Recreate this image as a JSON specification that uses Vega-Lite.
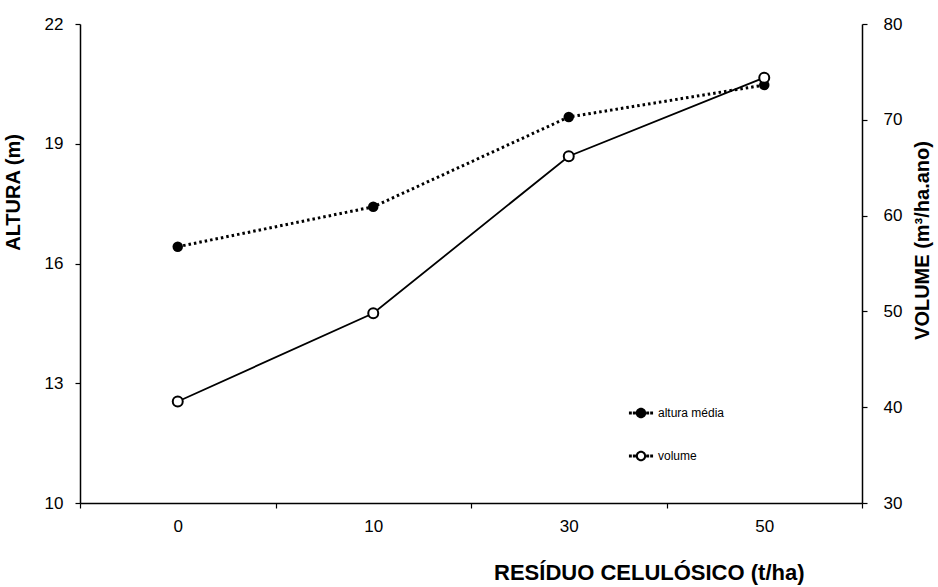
{
  "$schema": "https://vega.github.io/schema/vega-lite/v6.json",
  "width": 782,
  "height": 479,
  "autosize": {"type": "none"},
  "padding": {"left": 80, "top": 24, "right": 76, "bottom": 84},
  "background": "white",
  "config": {
    "view": {"stroke": null},
    "font": "Liberation Sans",
    "axis": {
      "grid": false,
      "domainColor": "black",
      "domainWidth": 1.5,
      "tickColor": "black",
      "tickWidth": 1.2,
      "tickSize": 5,
      "labelColor": "black",
      "labelFont": "Liberation Sans",
      "labelFontSize": 17,
      "titleColor": "black",
      "titleFont": "Liberation Sans",
      "titleFontSize": 20,
      "titleFontWeight": "bold"
    },
    "legend": {
      "orient": "none",
      "legendX": 555,
      "legendY": 383,
      "title": null,
      "symbolFillColor": "black",
      "symbolStrokeColor": "black",
      "symbolStrokeWidth": 0,
      "symbolSize": 110,
      "symbolOpacity": 1,
      "labelFont": "Liberation Sans",
      "labelFontSize": 12,
      "labelColor": "black",
      "labelOffset": 11,
      "rowPadding": 31
    }
  },
  "data": {
    "values": [
      {"residuo": "0", "altura": 16.42, "volume": 40.6},
      {"residuo": "10", "altura": 17.42, "volume": 49.8},
      {"residuo": "30", "altura": 19.67, "volume": 66.2},
      {"residuo": "50", "altura": 20.47, "volume": 74.4}
    ]
  },
  "encoding": {
    "x": {
      "field": "residuo",
      "type": "nominal",
      "sort": null,
      "bandPosition": 0.5,
      "scale": {"type": "band", "paddingInner": 0, "paddingOuter": 0},
      "axis": {
        "title": "RESÍDUO CELULÓSICO (t/ha)",
        "titleFontSize": 22,
        "labelAngle": 0,
        "tickBand": "extent",
        "labelPadding": 10,
        "titleX": 724,
        "titleY": 76,
        "titleAlign": "right",
        "titleAnchor": null,
        "titleBaseline": "alphabetic"
      }
    }
  },
  "layer": [
    {
      "encoding": {
        "y": {
          "field": "altura",
          "type": "quantitative",
          "scale": {"domain": [10, 22], "nice": false, "zero": false},
          "axis": {
            "title": "ALTURA (m)",
            "values": [10, 13, 16, 19, 22],
            "labelPadding": 12,
            "titleAngle": 270,
            "titleX": -61,
            "titleY": 168,
            "titleAlign": "center",
            "titleAnchor": null,
            "titleBaseline": "alphabetic"
          }
        }
      },
      "layer": [
        {
          "mark": {"type": "line", "color": "black", "strokeWidth": 3, "strokeDash": [2.5, 3]}
        },
        {
          "mark": {"type": "point", "filled": true, "color": "black", "size": 110, "opacity": 1}
        },
        {
          "mark": {"type": "point", "filled": true, "color": "black", "opacity": 0},
          "encoding": {
            "shape": {
              "datum": "altura média",
              "scale": {
                "domain": ["altura média", "volume"],
                "range": [
                  "M1,0A1,1,0,1,1,-1,0A1,1,0,1,1,1,0Z M-2.3,-0.28h0.55v0.56h-0.55Z M-1.55,-0.28h0.55v0.56h-0.55Z M1.0,-0.28h0.55v0.56h-0.55Z M1.75,-0.28h0.55v0.56h-0.55Z",
                  "M1,0A1,1,0,1,1,-1,0A1,1,0,1,1,1,0Z M0.6,0A0.6,0.6,0,1,0,-0.6,0A0.6,0.6,0,1,0,0.6,0Z M-2.3,-0.28h0.55v0.56h-0.55Z M-1.55,-0.28h0.55v0.56h-0.55Z M1.0,-0.28h0.55v0.56h-0.55Z M1.75,-0.28h0.55v0.56h-0.55Z"
                ]
              }
            }
          }
        },
        {
          "mark": {"type": "point", "filled": true, "color": "black", "opacity": 0},
          "encoding": {"shape": {"datum": "volume"}}
        }
      ]
    },
    {
      "encoding": {
        "y": {
          "field": "volume",
          "type": "quantitative",
          "scale": {"domain": [30, 80], "nice": false, "zero": false},
          "axis": {
            "orient": "right",
            "title": "VOLUME (m³/ha.ano)",
            "values": [30, 40, 50, 60, 70, 80],
            "labelPadding": 16,
            "titleAngle": 270,
            "titleX": 66,
            "titleY": 216,
            "titleAlign": "center",
            "titleAnchor": null,
            "titleBaseline": "alphabetic"
          }
        }
      },
      "layer": [
        {
          "mark": {"type": "line", "color": "black", "strokeWidth": 1.8}
        },
        {
          "mark": {"type": "point", "filled": false, "fill": "white", "stroke": "black", "strokeWidth": 2, "size": 100, "opacity": 1}
        }
      ]
    }
  ],
  "resolve": {"scale": {"y": "independent"}}
}
